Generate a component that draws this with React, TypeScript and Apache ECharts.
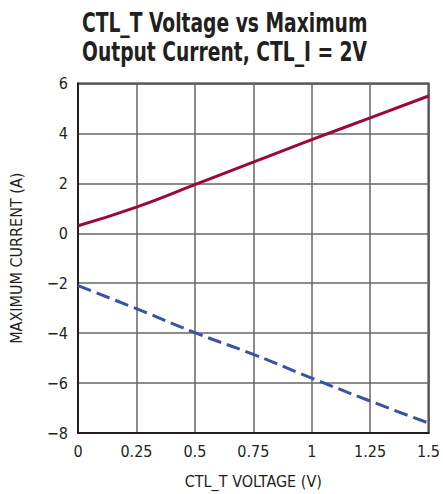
import React, { useEffect, useRef } from "react";
import * as echarts from "echarts";

const xValues = [0, 0.25, 0.5, 0.75, 1.0, 1.25, 1.5];
const positiveCurrent = [0.3, 1.05, 1.95, 2.85, 3.75, 4.62, 5.5];
const negativeCurrent = [-2.1, -3.02, -3.98, -4.85, -5.8, -6.72, -7.6];
const xTicks = [0, 0.25, 0.5, 0.75, 1, 1.25, 1.5];
const yTicks = [-8, -6, -4, -2, 0, 2, 4, 6];
const titleLines = ["CTL_T Voltage vs Maximum", "Output Current, CTL_I = 2V"];

const FONT = "'DejaVu Sans Condensed', 'Liberation Sans Narrow', sans-serif";

export default function App() {
  const ref = useRef<HTMLDivElement>(null);
  useEffect(() => {
    if (!ref.current) return;
    const chart = echarts.init(ref.current, null, { renderer: "svg" });
    chart.setOption({
      animation: false,
      backgroundColor: "#ffffff",
      graphic: [
        {
          type: "text",
          x: 82,
          y: 9,
          scaleX: 0.77,
          style: {
            text: titleLines.join("\n"),
            fontFamily: FONT,
            fontWeight: "bold",
            fontSize: 27,
            lineHeight: 29,
            fill: "#231f20",
          },
        },
      ],
      grid: {
        left: 78,
        right: 13,
        top: 83.5,
        bottom: 59.5,
        show: true,
        borderColor: "#231f20",
        borderWidth: 2,
      },
      xAxis: {
        type: "value",
        min: 0,
        max: 1.5,
        interval: 0.25,
        name: "CTL_T VOLTAGE (V)",
        nameLocation: "middle",
        nameGap: 40,
        nameTextStyle: { fontFamily: FONT, fontSize: 16, color: "#231f20" },
        axisLine: { show: true, onZero: false, lineStyle: { color: "#231f20", width: 2 } },
        axisTick: { show: false },
        axisLabel: {
          fontFamily: FONT,
          fontSize: 16,
          color: "#231f20",
          margin: 10,
          formatter: (v: number) => (xTicks.includes(v) ? String(v) : ""),
        },
        splitLine: { show: true, lineStyle: { color: "#666666", width: 1.5 } },
      },
      yAxis: {
        type: "value",
        min: -8,
        max: 6,
        interval: 2,
        name: "MAXIMUM CURRENT (A)",
        nameLocation: "middle",
        nameGap: 54,
        nameRotate: 90,
        nameTextStyle: { fontFamily: FONT, fontSize: 16, color: "#231f20" },
        axisLine: { show: true, lineStyle: { color: "#231f20", width: 2 } },
        axisTick: { show: false },
        axisLabel: {
          fontFamily: FONT,
          fontSize: 16,
          color: "#231f20",
          margin: 10,
          formatter: (v: number) => (yTicks.includes(v) ? String(v).replace("-", "\u2212") : ""),
        },
        splitLine: { show: true, lineStyle: { color: "#666666", width: 1.5 } },
      },
      series: [
        {
          type: "line",
          data: xValues.map((x, i) => [x, positiveCurrent[i]]),
          smooth: true,
          showSymbol: false,
          lineStyle: { color: "#9b0a35", width: 3 },
        },
        {
          type: "line",
          data: xValues.map((x, i) => [x, negativeCurrent[i]]),
          smooth: true,
          showSymbol: false,
          lineStyle: { color: "#3a52a4", width: 3, type: [14, 6] },
        },
      ],
    });
    return () => chart.dispose();
  }, []);
  return <div ref={ref} style={{ width: 443, height: 494, position: "absolute", left: 0, top: 0 }} />;
}
